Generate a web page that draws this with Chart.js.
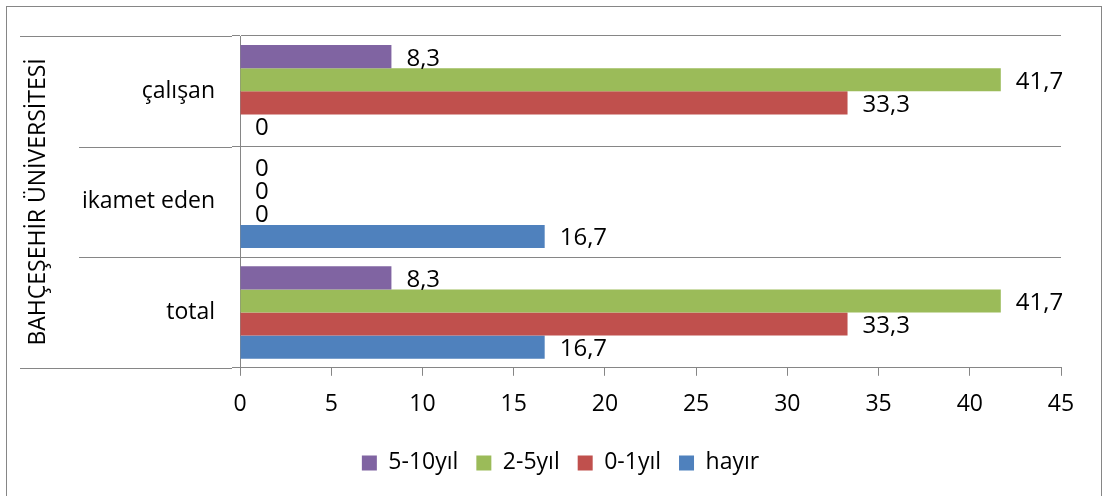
<!DOCTYPE html>
<html>
<head>
<meta charset="utf-8">
<script src="https://cdn.jsdelivr.net/npm/chart.js@4.4.0/dist/chart.umd.min.js"></script>
<style>
    html, body { margin: 0; padding: 0; background: #fff; }
    #wrap { width: 1103px; height: 496px; }
</style>
</head>
<body>
<div id="wrap"><canvas id="chart"></canvas></div>
<script>
// data
const categories = ['çalışan', 'ikamet eden', 'total'];
const groupLabel = 'BAHÇEŞEHİR ÜNİVERSİTESİ';
const seriesNames = ['5-10yıl', '2-5yıl', '0-1yıl', 'hayır'];
const values510 = [8.3, 0, 8.3];
const values25 = [41.7, 0, 41.7];
const values01 = [33.3, 0, 33.3];
const valuesHayir = [0, 16.7, 16.7];
const xMin = 0, xMax = 45, xStep = 5;

const gridColor = '#868686';
Chart.defaults.font.family = "'Open Sans', sans-serif";
Chart.defaults.font.size = 23;
Chart.defaults.color = '#000';

// outer frame of the chart
const framePlugin = {
    id: 'frame',
    beforeDraw(chart) {
        const ctx = chart.ctx;
        ctx.save();
        ctx.fillStyle = '#fff';
        ctx.fillRect(0, 0, chart.width, chart.height);
        ctx.strokeStyle = gridColor;
        ctx.lineWidth = 1;
        ctx.strokeRect(6.5, 6.5, chart.width - 8, chart.height + 10);
        ctx.restore();
    }
};

// lines of the category group column on the left
const groupLinesPlugin = {
    id: 'groupLines',
    afterDraw(chart) {
        const ctx = chart.ctx;
        const area = chart.chartArea;
        const step = (area.bottom - area.top) / categories.length;
        ctx.save();
        ctx.strokeStyle = gridColor;
        ctx.lineWidth = 1;
        ctx.beginPath();
        for (let i = 0; i <= categories.length; i++) {
            let y = Math.round(area.top + i * step) + 0.5;
            let startX = (i === 0 || i === categories.length) ? 20 : 79;
            ctx.moveTo(startX, y);
            ctx.lineTo(area.left - 8, y);
        }
        ctx.stroke();
        ctx.restore();
    }
};

// value labels to the right of each bar
const valueLabelsPlugin = {
    id: 'valueLabels',
    afterDatasetsDraw(chart) {
        const ctx = chart.ctx;
        ctx.save();
        ctx.font = "24px 'Open Sans', sans-serif";
        ctx.fillStyle = '#000';
        ctx.textAlign = 'left';
        ctx.textBaseline = 'middle';
        chart.data.datasets.forEach((ds, di) => {
            chart.getDatasetMeta(di).data.forEach((bar, i) => {
                let text = String(ds.data[i]).replace('.', ',');
                ctx.fillText(text, bar.x + 15, bar.y + 2);
            });
        });
        ctx.restore();
    }
};

const ctx = document.getElementById('chart').getContext('2d');
new Chart(ctx, {
    type: 'bar',
    data: {
        labels: categories,
        datasets: [
            { label: seriesNames[0], data: values510, backgroundColor: '#8064A2' },
            { label: seriesNames[1], data: values25, backgroundColor: '#9BBB59' },
            { label: seriesNames[2], data: values01, backgroundColor: '#C0504D' },
            { label: seriesNames[3], data: valuesHayir, backgroundColor: '#4F81BD' }
        ]
    },
    options: {
        indexAxis: 'y',
        responsive: true,
        maintainAspectRatio: false,
        animation: false,
        datasets: {
            bar: { categoryPercentage: 0.835, barPercentage: 1 }
        },
        layout: {
            padding: { left: 60, right: 42, top: 36, bottom: 11.6 }
        },
        plugins: {
            legend: {
                position: 'bottom',
                labels: {
                    boxWidth: 15,
                    boxHeight: 15,
                    padding: 18,
                    font: { size: 23 }
                }
            },
            tooltip: { enabled: false }
        },
        scales: {
            x: {
                min: xMin,
                max: xMax,
                ticks: { stepSize: xStep, padding: 15, font: { size: 23 } },
                grid: { drawOnChartArea: false, drawTicks: true, tickLength: 8, color: gridColor },
                border: { color: gridColor }
            },
            y: {
                grid: { color: gridColor, tickLength: 8, drawOnChartArea: true },
                border: { color: gridColor },
                ticks: { padding: 17, font: { size: 23 } },
                title: {
                    display: true,
                    text: groupLabel,
                    font: { size: 23 },
                    padding: { top: -35, bottom: 0 }
                },
                afterFit(scale) {
                    scale.width = 180;
                }
            }
        }
    },
    plugins: [framePlugin, groupLinesPlugin, valueLabelsPlugin]
});
</script>
</body>
</html>
